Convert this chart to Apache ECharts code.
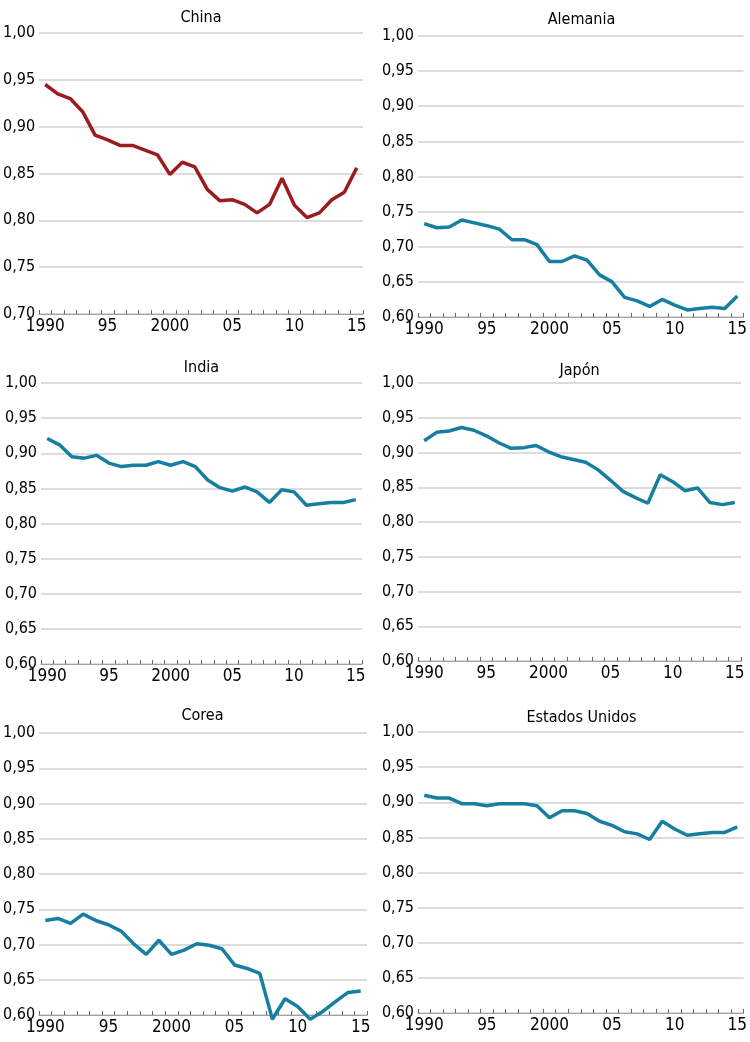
<!DOCTYPE html>
<html>
<head>
<meta charset="utf-8">
<script src="https://cdn.jsdelivr.net/npm/echarts@6/dist/echarts.min.js"></script>
<style>
  html, body { margin: 0; padding: 0; background: #fff; }
  #chart { width: 750px; height: 1042px; }
</style>
</head>
<body>
<div id="chart"></div>
<script>
// años y etiquetas del eje x
const years = ['1990', '1991', '1992', '1993', '1994', '1995', '1996', '1997', '1998', '1999',
  '2000', '2001', '2002', '2003', '2004', '2005', '2006', '2007', '2008', '2009',
  '2010', '2011', '2012', '2013', '2014', '2015']
const yearLabels = ['1990', '95', '2000', '05', '10', '15']

const china = [0.945, 0.935, 0.930, 0.916, 0.891, 0.886, 0.880, 0.880, 0.875, 0.870,
  0.849, 0.862, 0.857, 0.833, 0.821, 0.822, 0.817, 0.808, 0.817, 0.845,
  0.816, 0.803, 0.808, 0.822, 0.830, 0.856]
const alemania = [0.733, 0.727, 0.728, 0.738, 0.734, 0.730, 0.725, 0.710, 0.710, 0.703,
  0.679, 0.679, 0.687, 0.681, 0.660, 0.650, 0.628, 0.623, 0.615, 0.625,
  0.617, 0.610, 0.612, 0.614, 0.612, 0.630]
const india = [0.921, 0.912, 0.895, 0.893, 0.897, 0.886, 0.881, 0.883, 0.883, 0.888,
  0.883, 0.888, 0.881, 0.862, 0.851, 0.846, 0.852, 0.845, 0.830, 0.848,
  0.845, 0.826, 0.828, 0.830, 0.830, 0.834]
const japon = [0.917, 0.929, 0.931, 0.936, 0.932, 0.924, 0.914, 0.906, 0.907, 0.910,
  0.901, 0.894, 0.890, 0.886, 0.875, 0.860, 0.844, 0.835, 0.827, 0.868,
  0.858, 0.845, 0.849, 0.828, 0.825, 0.828]
const corea = [0.734, 0.737, 0.730, 0.743, 0.734, 0.728, 0.719, 0.701, 0.686, 0.706,
  0.686, 0.692, 0.701, 0.699, 0.694, 0.671, 0.666, 0.659, 0.594, 0.623,
  0.612, 0.594, 0.605, 0.619, 0.632, 0.634]
const eeuu = [0.910, 0.906, 0.906, 0.898, 0.898, 0.895, 0.898, 0.898, 0.898, 0.895,
  0.878, 0.888, 0.888, 0.884, 0.873, 0.867, 0.858, 0.855, 0.847, 0.873,
  0.862, 0.853, 0.855, 0.857, 0.857, 0.865]

const FONT = "'Liberation Sans Narrow', 'DejaVu Sans Condensed', sans-serif"
const RED = '#9b1c1f'
const TEAL = '#167fa1'
const INK = '#000'

const panels = [
  { name: 'China', data: china, color: RED, min: 0.70, grid: { left: 39, top: 33, width: 324, height: 281 }, titleTop: 10 },
  { name: 'Alemania', data: alemania, color: TEAL, min: 0.60, grid: { left: 418, top: 36, width: 327, height: 281 }, titleTop: 12 },
  { name: 'India', data: india, color: TEAL, min: 0.60, grid: { left: 41, top: 383, width: 321, height: 281 }, titleTop: 360 },
  { name: 'Japón', data: japon, color: TEAL, min: 0.60, grid: { left: 418, top: 383, width: 323, height: 278 }, titleTop: 363 },
  { name: 'Corea', data: corea, color: TEAL, min: 0.60, grid: { left: 38, top: 733, width: 329, height: 282 }, titleTop: 708 },
  { name: 'Estados Unidos', data: eeuu, color: TEAL, min: 0.60, grid: { left: 418, top: 732, width: 327, height: 281 }, titleTop: 710 }
]

const option = {
  backgroundColor: '#fff',
  animation: false,
  title: panels.map(p => ({
    text: p.name,
    left: p.grid.left + p.grid.width / 2,
    top: p.titleTop,
    textAlign: 'center',
    padding: 0,
    textStyle: { fontFamily: FONT, fontSize: 16, fontWeight: 'normal', color: INK }
  })),
  grid: panels.map(p => Object.assign({ containLabel: false }, p.grid)),
  xAxis: panels.map((p, i) => ({
    type: 'category',
    gridIndex: i,
    data: years,
    boundaryGap: true,
    axisLine: { lineStyle: { color: '#a0a0a0', width: 1 } },
    axisTick: { show: true, interval: 0, inside: true, length: 4, lineStyle: { color: '#666' } },
    axisLabel: {
      interval: 4,
      margin: 4,
      fontFamily: FONT,
      fontSize: 17,
      color: INK,
      formatter: (v, idx) => yearLabels[idx / 5]
    },
    splitLine: { show: false }
  })),
  yAxis: panels.map((p, i) => ({
    type: 'value',
    gridIndex: i,
    min: p.min,
    max: 1.0,
    interval: 0.05,
    axisLine: { show: false },
    axisTick: { show: false },
    axisLabel: {
      margin: 4,
      fontFamily: FONT,
      fontSize: 16,
      color: INK,
      formatter: v => v.toFixed(2).replace('.', ',')
    },
    splitLine: { lineStyle: { color: '#dcdcdc', width: 2 } }
  })),
  series: panels.map((p, i) => ({
    name: p.name,
    type: 'line',
    xAxisIndex: i,
    yAxisIndex: i,
    data: p.data,
    symbol: 'none',
    clip: false,
    lineStyle: { color: p.color, width: 3.5 }
  }))
}

const chart = echarts.init(document.getElementById('chart'))
chart.setOption(option)
</script>
</body>
</html>
